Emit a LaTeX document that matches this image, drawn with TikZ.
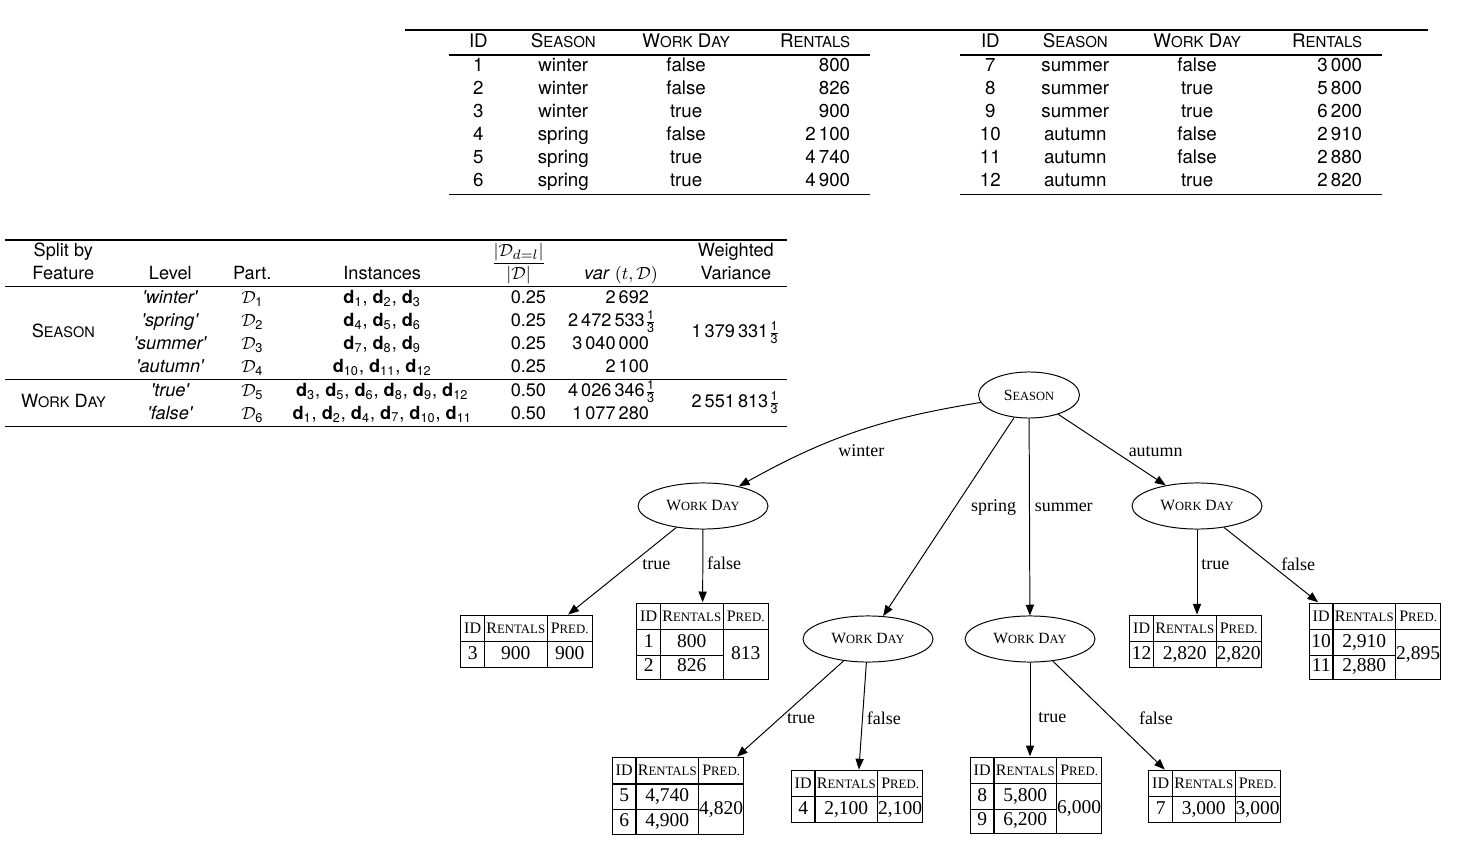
\documentclass[tikz,border=0pt]{standalone}
\usepackage{amsmath}
\usepackage{graphicx}
\usepackage{array}
\usepackage{multirow}
\usepackage{fontspec}
\setmainfont{TeX Gyre Heros}
\newfontfamily\treefont{Liberation Serif}
\usetikzlibrary{arrows.meta,calc,shapes.geometric}

\setlength{\tabcolsep}{0pt}
\setlength{\arrayrulewidth}{0.6pt}
\newcommand\smc[2]{#1\scalebox{0.8}{#2}}
\newcommand\dd[1]{\textbf{d}\textsubscript{#1}}
\newcommand\partn[1]{$\mathcal{D}_{\text{#1}}$}
\newcommand\third{$\frac{\text{1}}{\text{3}}$}
\newcommand\lvl[1]{\textit{\textquotesingle#1\textquotesingle}}
\newcommand\tabfont{\fontsize{9.6}{11.8}\selectfont}
\newcommand\splitfont{\fontsize{9.3}{11.7}\selectfont}
\newcommand\leafhd{\rule[-4pt]{0pt}{10.8pt}\fontsize{8.2}{10}\selectfont}
\newcommand\leafone[3]{%
  \begin{tabular}{|w{c}{11.5pt}|w{c}{31.5pt}|w{c}{22.5pt}|}\hline
    \leafhd ID & \leafhd\smc{R}{ENTALS} & \leafhd\smc{P}{RED.}\\\hline
    #1 & #2 & #3\\\hline
  \end{tabular}}
\newcommand\leaftwo[5]{%
  \begin{tabular}{|w{c}{11.5pt}|w{c}{31.5pt}|w{c}{22.5pt}|}\hline
    \leafhd ID & \leafhd\smc{R}{ENTALS} & \leafhd\smc{P}{RED.}\\\hline
    #1 & #2 & \multirow{2}{*}{#5}\\\cline{1-2}
    #3 & #4 & \\\hline
  \end{tabular}}

\begin{document}
\begin{tikzpicture}[x=0.018cm, y=-0.018cm,
  tbl/.style={inner sep=0pt, anchor=north west},
  feat/.style={ellipse, draw, line width=0.5pt, inner sep=0pt, minimum height=23.6pt,
    font=\treefont\fontsize{8}{9.6}\selectfont},
  leaf/.style={inner sep=0pt, font=\treefont\fontsize{10}{12.6}\selectfont},
  lbl/.style={inner sep=2pt, font=\treefont\fontsize{9.2}{11}\selectfont},
  branch/.style={-{Triangle[length=5.5pt,width=4.2pt]}, line width=0.5pt}]
  \useasboundingbox (0,0) rectangle (1465,843);

  \draw[line width=0.7pt] (405,30) -- (1428,30);
  \node[tbl, font=\tabfont] (data1) at (449,31) {%
    \begin{tabular}{@{}w{c}{29.7pt}w{c}{57.3pt}w{c}{68.6pt}w{r}{49.7pt}@{\hspace{10.2pt}}}
      ID & \smc{S}{EASON} & \smc{W}{ORK} \smc{D}{AY} & \smc{R}{ENTALS}\\\hline
      1 & winter & false & 800\\
      2 & winter & false & 826\\
      3 & winter & true & 900\\
      4 & spring & false & 2\,100\\
      5 & spring & true & 4\,740\\
      6 & spring & true & 4\,900\\\hline
    \end{tabular}};
  \node[tbl, font=\tabfont] (data2) at (960,31) {%
    \begin{tabular}{@{}w{c}{30.7pt}w{c}{56.3pt}w{c}{68.6pt}w{r}{50.2pt}@{\hspace{10.2pt}}}
      ID & \smc{S}{EASON} & \smc{W}{ORK} \smc{D}{AY} & \smc{R}{ENTALS}\\\hline
      7 & summer & false & 3\,000\\
      8 & summer & true & 5\,800\\
      9 & summer & true & 6\,200\\
      10 & autumn & false & 2\,910\\
      11 & autumn & false & 2\,880\\
      12 & autumn & true & 2\,820\\\hline
    \end{tabular}};

  \node[tbl, font=\splitfont] (splits) at (5,239) {%
    \begin{tabular}{@{}w{c}{59.4pt}w{c}{50.2pt}w{c}{33.8pt}w{c}{99.3pt}w{r}{34.3pt}w{r}{52.7pt}@{\hspace{18.4pt}}w{c}{52.2pt}@{}}
      \hline
      Split by & & & & \multirow{2}{*}{$\dfrac{|\mathcal{D}_{d=l}|}{|\mathcal{D}|}$} & & Weighted\\
      Feature & Level & Part. & Instances & & \textit{var} $(t,\mathcal{D})$\kern-4.6pt & Variance\\\hline
      \multirow{4}{*}{\smc{S}{EASON}} & \lvl{winter} & \partn{1} & \dd{1}, \dd{2}, \dd{3} & 0.25 & 2\,692
        & \multirow{4}{*}{1\,379\,331\third}\\
      & \lvl{spring} & \partn{2} & \dd{4}, \dd{5}, \dd{6} & 0.25 & 2\,472\,533\third\kern-3.9pt & \\
      & \lvl{summer} & \partn{3} & \dd{7}, \dd{8}, \dd{9} & 0.25 & 3\,040\,000 & \\
      & \lvl{autumn} & \partn{4} & \dd{10}, \dd{11}, \dd{12} & 0.25 & 2\,100 & \\\hline
      \multirow{2}{*}{\smc{W}{ORK} \smc{D}{AY}} & \lvl{true} & \partn{5} & \dd{3}, \dd{5}, \dd{6}, \dd{8}, \dd{9}, \dd{12}
        & 0.50 & 4\,026\,346\third\kern-3.9pt & \multirow{2}{*}{2\,551\,813\third}\\
      & \lvl{false} & \partn{6} & \dd{1}, \dd{2}, \dd{4}, \dd{7}, \dd{10}, \dd{11} & 0.50 & 1\,077\,280 & \\\hline
    \end{tabular}};

  \node[feat, minimum width=51.7pt] (season) at (1029,395) {\smc{S}{EASON}};
  \node[feat, minimum width=66.6pt] (wdw) at (703,506) {\smc{W}{ORK} \smc{D}{AY}};
  \node[feat, minimum width=66.6pt] (wds) at (868,639) {\smc{W}{ORK} \smc{D}{AY}};
  \node[feat, minimum width=66.6pt] (wdm) at (1030,639) {\smc{W}{ORK} \smc{D}{AY}};
  \node[feat, minimum width=66.6pt] (wda) at (1197,506) {\smc{W}{ORK} \smc{D}{AY}};

  \node[leaf] (lw-t) at (526.5,641.5) {\leafone{3}{900}{900}};
  \node[leaf] (lw-f) at (702.5,641.5) {\leaftwo{1}{800}{2}{826}{813}};
  \node[leaf] (ls-t) at (678,796) {\leaftwo{5}{4,740}{6}{4,900}{4,820}};
  \node[leaf] (ls-f) at (857,796.5) {\leafone{4}{2,100}{2,100}};
  \node[leaf] (lm-t) at (1036,795.5) {\leaftwo{8}{5,800}{9}{6,200}{6,000}};
  \node[leaf] (lm-f) at (1214.5,796.5) {\leafone{7}{3,000}{3,000}};
  \node[leaf] (la-t) at (1195.5,641.5) {\leafone{12}{2,820}{2,820}};
  \node[leaf] (la-f) at (1375,641.5) {\leaftwo{10}{2,910}{11}{2,880}{2,895}};

  \draw[branch] (season) to[bend right=10] node[lbl, below=4pt, xshift=3pt] {winter} (wdw);
  \draw[branch] (season) -- node[lbl, pos=0.455, anchor=west, xshift=6.3pt] {spring} (wds);
  \draw[branch] (season) -- node[lbl, pos=0.45, anchor=west, xshift=0.5pt] {summer} (wdm);
  \draw[branch] (season) -- node[lbl, pos=0.53, anchor=west, xshift=4.7pt] {autumn} (wda);
  \draw[branch] (wdw) -- node[lbl, pos=0.42, anchor=west, xshift=3.6pt] {true} ([xshift=-12.8pt]lw-t.north east);
  \draw[branch] (wdw) -- node[lbl, pos=0.47, anchor=west] {false} (lw-f);
  \draw[branch] (wds) -- node[lbl, pos=0.6, anchor=west, xshift=1.6pt] {true} ([xshift=-4pt]ls-t.north east);
  \draw[branch] (wds) -- node[lbl, pos=0.52, anchor=west] {false} (ls-f);
  \draw[branch] (wdm) -- node[lbl, pos=0.59, anchor=west, xshift=2pt] {true} (wdm |- lm-t.north);
  \draw[branch] (wdm) -- node[lbl, pos=0.525, anchor=west, xshift=11.8pt] {false} ([xshift=8.7pt]lm-f.north west);
  \draw[branch] (wda) -- node[lbl, pos=0.41, anchor=west] {true} (wda |- la-t.north);
  \draw[branch] (wda) -- node[lbl, pos=0.487, anchor=west, xshift=3.6pt] {false} ([xshift=5pt]la-f.north west);
\end{tikzpicture}
\end{document}
